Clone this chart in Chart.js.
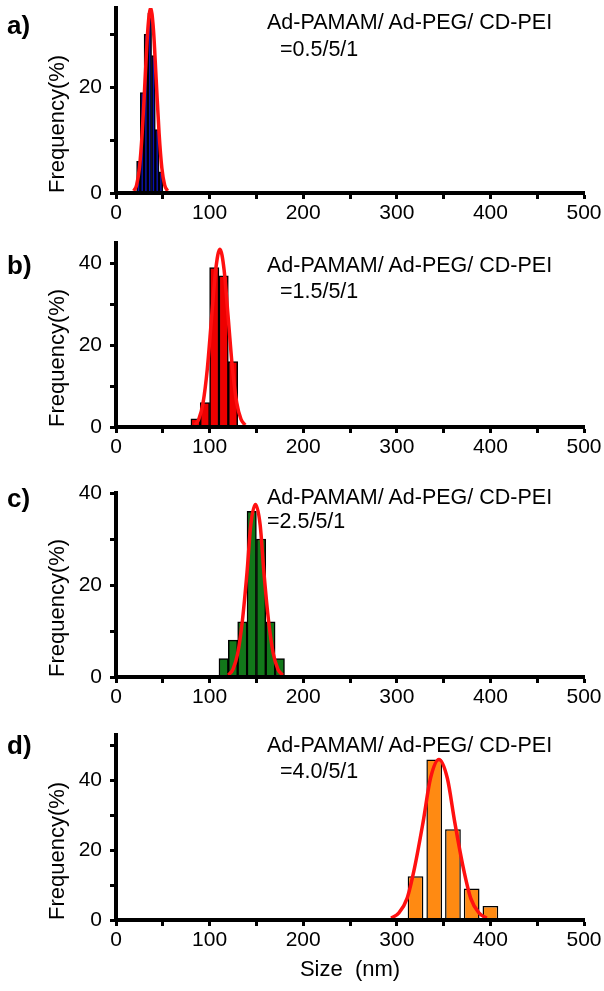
<!DOCTYPE html>
<html>
<head>
<meta charset="utf-8">
<script src="https://cdn.jsdelivr.net/npm/chart.js@4.4.1/dist/chart.umd.min.js"></script>
<style>
  body { margin: 0; width: 604px; height: 991px; background: #fff; position: relative; overflow: hidden;
         font-family: "Liberation Sans", Arial, sans-serif; color: #000; }
  canvas { position: absolute; left: 0; }
  .lab { position: absolute; font-weight: bold; font-size: 26px; line-height: 26px; }
  .note { position: absolute; font-size: 21.5px; line-height: 21.5px; white-space: pre; }
</style>
</head>
<body>
<canvas id="pa" width="604" height="252" style="top:-22px"></canvas>
<canvas id="pb" width="604" height="251" style="top:213px"></canvas>
<canvas id="pc" width="604" height="251" style="top:463px"></canvas>
<canvas id="pd" width="604" height="286" style="top:705px"></canvas>

<div class="lab" style="left:7px;top:12px">a)</div>
<div class="lab" style="left:7px;top:252px">b)</div>
<div class="lab" style="left:7px;top:485px">c)</div>
<div class="lab" style="left:7px;top:732px">d)</div>

<div class="note" style="left:267px;top:12px">Ad-PAMAM/ Ad-PEG/ CD-PEI</div>
<div class="note" style="left:280px;top:39px">=0.5/5/1</div>
<div class="note" style="left:267px;top:255px">Ad-PAMAM/ Ad-PEG/ CD-PEI</div>
<div class="note" style="left:280px;top:281px">=1.5/5/1</div>
<div class="note" style="left:267px;top:487px">Ad-PAMAM/ Ad-PEG/ CD-PEI</div>
<div class="note" style="left:267px;top:511px">=2.5/5/1</div>
<div class="note" style="left:267px;top:735px">Ad-PAMAM/ Ad-PEG/ CD-PEI</div>
<div class="note" style="left:280px;top:761px">=4.0/5/1</div>

<script>
// histogram bins (nm) and frequencies (%)
const sizeA = [24, 28, 32, 36, 40, 44, 48];
const freqA = [6, 19, 30, 34, 26, 12, 4];
const sizeB = [85, 95, 105, 115, 125];
const freqB = [2, 6, 39, 37, 16];
const sizeC = [115, 125, 135, 145, 155, 165, 175];
const freqC = [4, 8, 12, 36, 30, 12, 4];
const sizeD = [320, 340, 360, 380, 400];
const freqD = [12.5, 46, 26, 9, 4];

// fitted curves
const fitXA = [19, 22, 25, 28, 31, 34, 37, 40, 43, 46, 49, 52, 55];
const fitYA = [0.4, 1.5, 4.7, 11.4, 21.2, 30.9, 35, 30.9, 21.2, 11.4, 4.7, 1.5, 0.4];
const fitXB = [84, 88.5, 93, 97.5, 102, 106.5, 111, 115.5, 120, 124.5, 129, 133.5, 138];
const fitYB = [0.5, 1.9, 5.9, 14.1, 26.4, 38.4, 43.5, 38.4, 26.4, 14.1, 5.9, 1.9, 0.5];
const fitXC = [120, 125, 130, 135, 140, 144, 149, 154, 158, 163, 168, 173, 178];
const fitYC = [0.4, 1.7, 5.1, 12.2, 22.8, 33.1, 37.5, 33.1, 22.8, 12.2, 5.1, 1.7, 0.4];
const fitXD = [294, 302, 311, 319, 328, 336, 345, 354, 362, 371, 379, 388, 396];
const fitYD = [0.5, 2, 6.2, 15, 27.9, 40.6, 46, 40.6, 27.9, 15, 6.2, 2, 0.5];

// axes
const yMax = [35, 45, 40, 53];
const yTicksA = [0, 10, 20, 30];
const yTicksB = [0, 10, 20, 30, 40];
const yTicksC = [0, 10, 20, 30, 40];
const yTicksD = [0, 10, 20, 30, 40, 50];
const xTicks = [0, 50, 100, 150, 200, 250, 300, 350, 400, 450, 500];

const FONT = "'Liberation Sans', Arial, sans-serif";

function makeChart(id, sizes, freqs, fitX, fitY, color, ymax, yTicks, barPct, xTitle) {
    new Chart(document.getElementById(id), {
        type: "bar",
        data: {
            datasets: [
                {
                    type: "line",
                    data: fitX.map((x, i) => ({ x: x, y: fitY[i] })),
                    borderColor: "#ff1010",
                    borderWidth: 3.5,
                    pointRadius: 0,
                    cubicInterpolationMode: "monotone",
                    order: 0
                },
                {
                    type: "bar",
                    data: sizes.map((x, i) => ({ x: x, y: freqs[i] })),
                    backgroundColor: color,
                    borderColor: "#000",
                    borderWidth: 1.5,
                    barPercentage: barPct,
                    categoryPercentage: 1,
                    order: 1
                }
            ]
        },
        options: {
            responsive: false,
            animation: false,
            layout: { padding: { top: 30, right: 20, left: 0, bottom: 0 } },
            plugins: { legend: { display: false }, tooltip: { enabled: false } },
            scales: {
                x: {
                    type: "linear", min: 0, max: 500, offset: false,
                    ticks: {
                        autoSkip: false, maxRotation: 0, padding: 2,
                        color: "#000", font: { family: FONT, size: 21 },
                        callback: v => (v % 100 === 0 ? v : "")
                    },
                    afterBuildTicks: s => { s.ticks = xTicks.map(v => ({ value: v })); },
                    grid: { display: true, offset: false, drawOnChartArea: false, drawTicks: true,
                            tickLength: 6, tickWidth: 3, tickColor: "#000" },
                    border: { display: true, color: "#000", width: 4, z: 1 },
                    title: { display: !!xTitle, text: xTitle || "", color: "#000",
                             font: { family: FONT, size: 22 }, padding: { top: 0, bottom: 8 } },
                    afterFit: s => { s.height = xTitle ? 71 : 37; }
                },
                y: {
                    min: 0, max: ymax,
                    ticks: {
                        autoSkip: false, padding: 8,
                        color: "#000", font: { family: FONT, size: 21 },
                        callback: v => (v % 20 === 0 ? v : "")
                    },
                    afterBuildTicks: s => { s.ticks = yTicks.map(v => ({ value: v })); },
                    grid: { display: true, drawOnChartArea: false, drawTicks: true,
                            tickLength: 6, tickWidth: 3, tickColor: "#000" },
                    border: { display: true, color: "#000", width: 4, z: 1 },
                    title: { display: true, text: "Frequency(%)", align: "start", color: "#000",
                             font: { family: FONT, size: 22 }, padding: { top: 45, bottom: 0 } },
                    afterFit: s => { s.width = 116; }
                }
            }
        }
    });
}

makeChart("pa", sizeA, freqA, fitXA, fitYA, "#0a12b0", yMax[0], yTicksA, 1, "");
makeChart("pb", sizeB, freqB, fitXB, fitYB, "#ee0000", yMax[1], yTicksB, 1, "");
makeChart("pc", sizeC, freqC, fitXC, fitYC, "#12781a", yMax[2], yTicksC, 1, "");
makeChart("pd", sizeD, freqD, fitXD, fitYD, "#ff8a12", yMax[3], yTicksD, 0.84, "Size  (nm)");
</script>
</body>
</html>
